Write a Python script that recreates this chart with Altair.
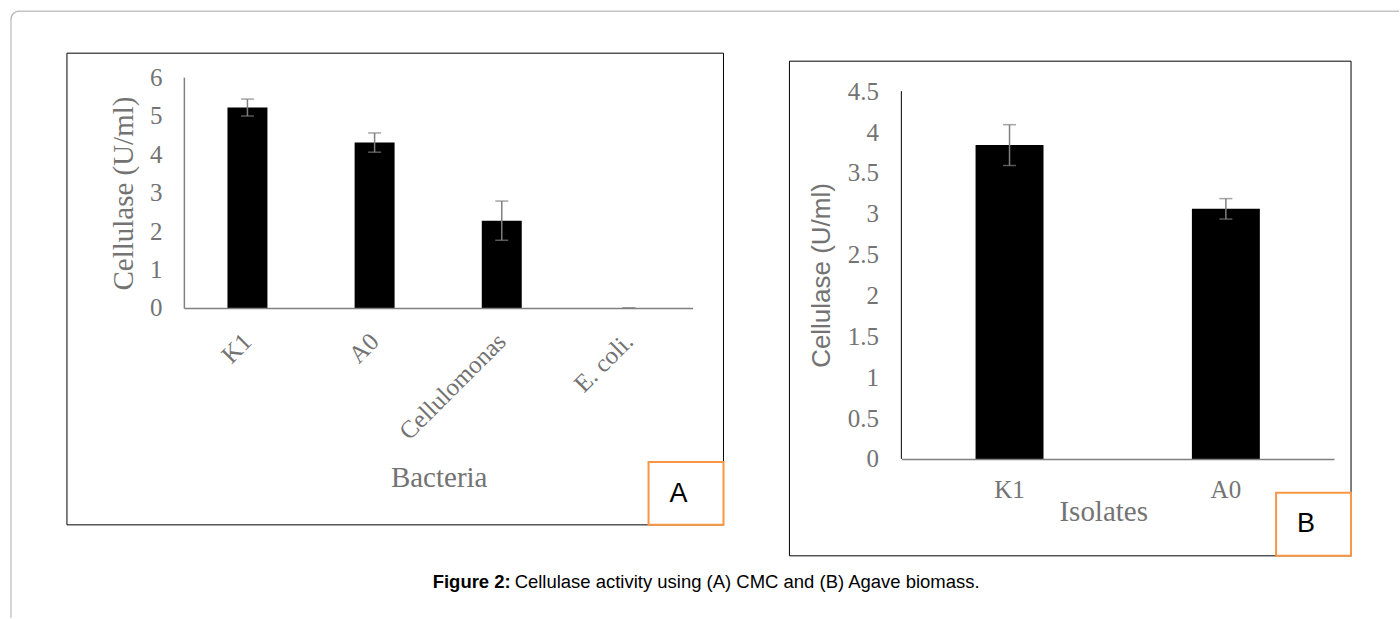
import altair as alt
import pandas as pd

# ---------------- data ----------------
bacteria = ["K1", "A0", "Cellulomonas", "E. coli."]
cmc_activity = [5.21, 4.30, 2.27, 0.0]
cmc_error = [0.22, 0.25, 0.51, 0.0]

isolates = ["K1", "A0"]
agave_activity = [3.84, 3.06]
agave_error = [0.25, 0.125]

y_ticks_a = [0, 1, 2, 3, 4, 5, 6]
y_ticks_b = [0, 0.5, 1, 1.5, 2, 2.5, 3, 3.5, 4, 4.5]

title_a_x = "Bacteria"
title_b_x = "Isolates"
title_y = "Cellulase (U/ml)"
caption_bold = "Figure 2:"
caption_rest = "Cellulase activity using (A) CMC and (B) Agave biomass."

# ---------------- styles ----------------
SERIF = "Liberation Serif"
SANS = "Liberation Sans"
TXT = "#737373"
AXC = "#808080"
ERR = "#7f7f7f"
ORANGE = "#F79646"

dfa = pd.DataFrame({"name": bacteria, "v": cmc_activity, "e": cmc_error})
dfa["lo"] = dfa["v"] - dfa["e"]
dfa["hi"] = dfa["v"] + dfa["e"]

dfb = pd.DataFrame({"name": isolates, "v": agave_activity, "e": agave_error})
dfb["lo"] = dfb["v"] - dfb["e"]
dfb["hi"] = dfb["v"] + dfb["e"]

deco = pd.DataFrame({"k": [0]})

# ---------------- panel A ----------------
WA, HA = 509, 231
xsa = alt.Scale(paddingInner=0, paddingOuter=0)
ysa = alt.Scale(domain=[0, 6], nice=False)

xa_axis = alt.Axis(
    labelAngle=-45, labelAlign="right", labelBaseline="middle",
    labelFont=SERIF, labelFontSize=25, labelColor=TXT, labelPadding=29,
    labelOverlap=False,
    ticks=False, domainColor=AXC, domainWidth=1.5, zindex=1,
    title=title_a_x, titleFont=SERIF, titleFontSize=29, titleFontWeight="normal",
    titleColor=TXT, titleX=255, titleY=179, titleAlign="center",
    titleBaseline="alphabetic",
)
ya_axis = alt.Axis(
    values=y_ticks_a, tickCount=len(y_ticks_a), grid=False, ticks=False, zindex=1,
    labelOverlap=False, format="d",
    labelFont=SERIF, labelFontSize=25, labelColor=TXT, labelPadding=22,
    domainColor=AXC, domainWidth=1.5,
    title=title_y, titleFont=SERIF, titleFontSize=29, titleFontWeight="normal",
    titleColor=TXT, titleX=-60, titleY=116, titleAngle=270,
    titleAlign="center", titleBaseline="middle",
)

xa = alt.X("name:N", sort=bacteria, scale=xsa, axis=xa_axis)
base_a = alt.Chart(dfa)

frame_a = alt.Chart(deco).mark_rect(fillOpacity=0, stroke="black", strokeWidth=1).encode(
    x=alt.value(-117), x2=alt.value(540), y=alt.value(-24), y2=alt.value(448))
bars_a = base_a.mark_bar(size=40, color="black").encode(
    x=xa, y=alt.Y("v:Q", scale=ysa, axis=ya_axis))
err_a = base_a.mark_rule(color=ERR, strokeWidth=1.5).encode(
    x=xa, y=alt.Y("lo:Q", scale=ysa, axis=ya_axis), y2="hi:Q")
caplo_a = base_a.mark_tick(size=13, thickness=1.5, color=ERR).encode(
    x=xa, y=alt.Y("lo:Q", scale=ysa, axis=ya_axis))
caphi_a = base_a.mark_tick(size=13, thickness=1.5, color=ERR).encode(
    x=xa, y=alt.Y("hi:Q", scale=ysa, axis=ya_axis))
box_a = alt.Chart(deco).mark_rect(fill="white", stroke=ORANGE, strokeWidth=2).encode(
    x=alt.value(465), x2=alt.value(540), y=alt.value(385), y2=alt.value(448))
lab_a = alt.Chart(deco).mark_text(text="A", font=SANS, fontSize=27, color="black",
                                  align="center", baseline="middle").encode(
    x=alt.value(495), y=alt.value(417))

# outer page frame and caption (placed relative to panel A)
top_line = alt.Chart(deco).mark_rule(color="#c4c4c4", strokeWidth=1.5).encode(
    x=alt.value(-165), x2=alt.value(1216), y=alt.value(-66))
left_line = alt.Chart(deco).mark_rule(color="#ababab", strokeWidth=1).encode(
    x=alt.value(-173), y=alt.value(-58), y2=alt.value(541))
corner = alt.Chart(deco).mark_arc(theta=4.712389, theta2=6.283185, radius=8, radius2=8,
                                  fillOpacity=0, stroke="#b4b4b4", strokeWidth=1.3).encode(
    x=alt.value(-165), y=alt.value(-58))
cap1 = alt.Chart(deco).mark_text(text=caption_bold, font=SANS, fontSize=18.5, fontWeight="bold",
                                 color="black", align="left", baseline="middle").encode(
    x=alt.value(249), y=alt.value(505))
cap2 = alt.Chart(deco).mark_text(text=caption_rest, font=SANS, fontSize=18.5,
                                 color="black", align="left", baseline="middle").encode(
    x=alt.value(331), y=alt.value(505))

panel_a = alt.layer(
    frame_a, bars_a, err_a, caplo_a, caphi_a, box_a, lab_a,
    top_line, left_line, corner, cap1, cap2,
).properties(width=WA, height=HA)

# ---------------- panel B ----------------
WB, HB = 433, 382
top_gap = 14
ysb = alt.Scale(domain=[0, 4.5 * HB / (HB - top_gap)], nice=False, zero=True)
xsb = alt.Scale(paddingInner=0, paddingOuter=0)

xb_axis = alt.Axis(
    labelAngle=0, labelAlign="center", labelBaseline="top",
    labelFont=SERIF, labelFontSize=25, labelColor=TXT, labelPadding=19,
    ticks=False, domainColor=AXC, domainWidth=1.5, zindex=1,
    title=title_b_x, titleFont=SERIF, titleFontSize=29, titleFontWeight="normal",
    titleColor=TXT, titleX=202, titleY=62, titleAlign="center",
    titleBaseline="alphabetic",
)
yb_axis = alt.Axis(
    values=y_ticks_b, format="~g", grid=False, ticks=False, domain=False, zindex=1,
    labelOverlap=False,
    labelFont=SERIF, labelFontSize=25, labelColor=TXT, labelPadding=23,
    title=title_y, titleFont=SANS, titleFontSize=26, titleFontWeight="normal",
    titleColor=TXT, titleX=-80, titleY=198, titleAngle=270,
    titleAlign="center", titleBaseline="middle",
)

xb = alt.X("name:N", sort=isolates, scale=xsb, axis=xb_axis)
base_b = alt.Chart(dfb)
frame_b = alt.Chart(deco).mark_rect(fillOpacity=0, stroke="black", strokeWidth=1).encode(
    x=alt.value(-112), x2=alt.value(450), y=alt.value(-16), y2=alt.value(479))
bars_b = base_b.mark_bar(size=68, color="black").encode(
    x=xb, y=alt.Y("v:Q", scale=ysb, axis=yb_axis))
yline_b = alt.Chart(pd.DataFrame({"a": [y_ticks_b[0]], "b": [y_ticks_b[-1]]})).mark_rule(
    color="#000000", strokeWidth=1).encode(
    x=alt.value(0), y=alt.Y("a:Q", scale=ysb, axis=yb_axis), y2="b:Q")
err_b = base_b.mark_rule(color=ERR, strokeWidth=1.5).encode(
    x=xb, y=alt.Y("lo:Q", scale=ysb, axis=yb_axis), y2="hi:Q")
caplo_b = base_b.mark_tick(size=13, thickness=1.5, color=ERR).encode(
    x=xb, y=alt.Y("lo:Q", scale=ysb, axis=yb_axis))
caphi_b = base_b.mark_tick(size=13, thickness=1.5, color=ERR).encode(
    x=xb, y=alt.Y("hi:Q", scale=ysb, axis=yb_axis))
box_b = alt.Chart(deco).mark_rect(fill="white", stroke=ORANGE, strokeWidth=2).encode(
    x=alt.value(375), x2=alt.value(450), y=alt.value(416), y2=alt.value(479))
lab_b = alt.Chart(deco).mark_text(text="B", font=SANS, fontSize=27, color="black",
                                  align="center", baseline="middle").encode(
    x=alt.value(405), y=alt.value(447))

panel_b = alt.layer(
    frame_b, bars_b, yline_b, err_b, caplo_b, caphi_b, box_b, lab_b,
).properties(width=WB, height=HB)

chart = alt.hconcat(panel_a, panel_b, spacing=209, bounds="flush").properties(
    padding={"left": 8, "top": 8, "right": 0, "bottom": 0},
    background="white",
).configure_view(stroke=None)

chart.save("out.html", embed_options={"renderer": "svg", "actions": False})
